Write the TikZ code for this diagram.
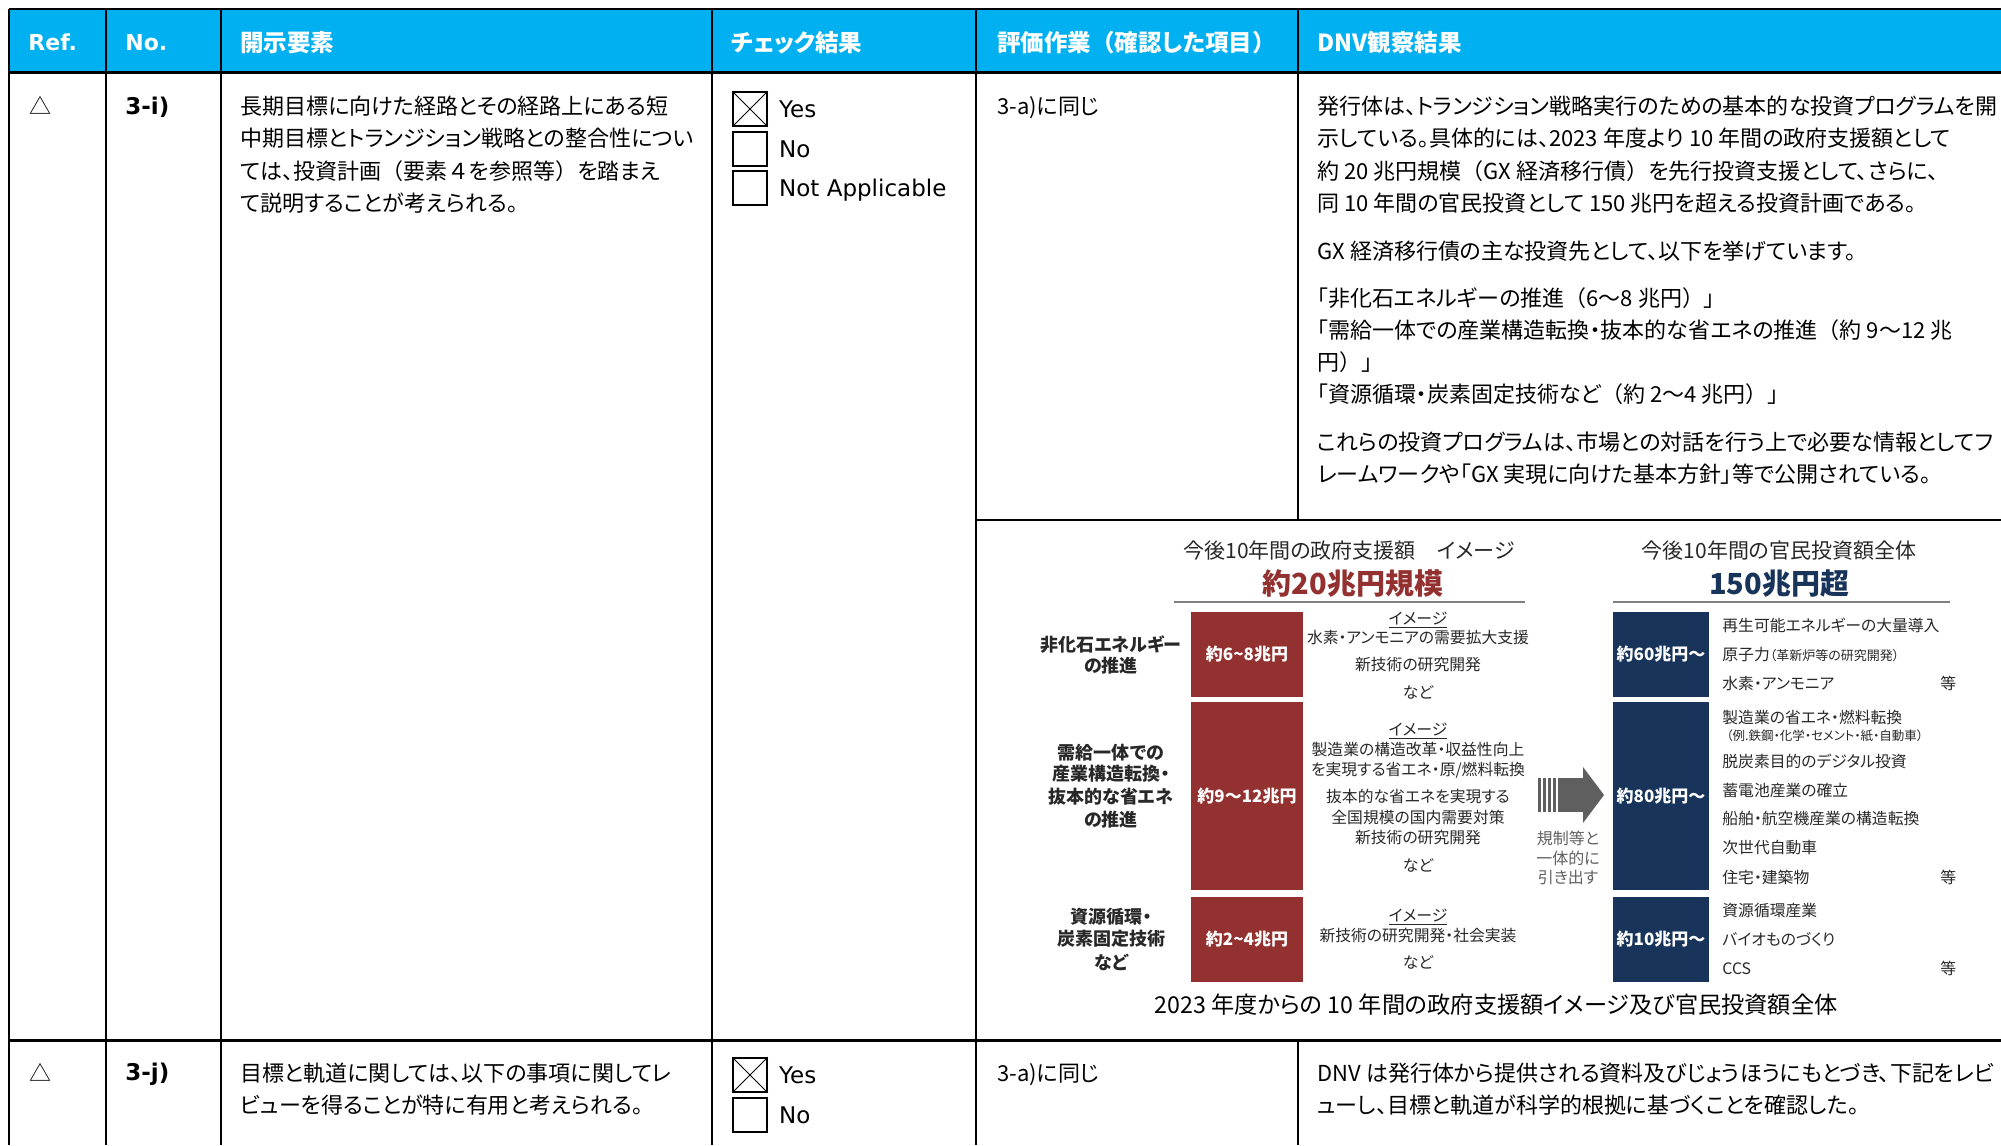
\documentclass[tikz,border=0pt]{standalone}
\usepackage{fontspec}
\setmainfont{DejaVu Sans}
\newfontfamily\jp[RawFeature=+palt]{Noto Sans CJK JP}
\newfontfamily\jpfull{Noto Sans CJK JP}
\newcommand{\jlp}{{\jpfull （}}
\newcommand{\jrp}{{\jpfull ）}}
\usetikzlibrary{positioning}
\definecolor{hdrblue}{RGB}{0,176,240}
\definecolor{govred}{RGB}{146,49,47}
\definecolor{pubnavy}{RGB}{25,52,90}
\definecolor{inkgray}{RGB}{40,40,40}
\definecolor{arrowgray}{RGB}{95,95,95}

\begin{document}
\begin{tikzpicture}[x=0.5pt,y=-0.5pt,
		every node/.style={inner sep=0pt},
		hdr/.style={font=\jp\bfseries\fontsize{11.75}{14}\selectfont,text=white,anchor=base west},
		hdrlat/.style={font=\bfseries\fontsize{11}{14}\selectfont,text=white,anchor=base west},
		body/.style={font=\jp\fontsize{11}{16}\selectfont,anchor=base west},
		lat/.style={font=\fontsize{11.5}{14}\selectfont,text depth=0pt},
		idx/.style={font=\bfseries\fontsize{11.5}{14}\selectfont,anchor=base west},
		chkbox/.style={draw,line width=0.8pt,minimum size=17pt},
		subttl/.style={font=\jp\fontsize{10.5}{12}\selectfont,text=inkgray,anchor=base},
		bigttl/.style={font=\jp\bfseries\fontsize{14.5}{16}\selectfont,anchor=base},
		sector/.style={font=\jp\bfseries\fontsize{9}{11}\selectfont,text=inkgray,anchor=base},
		bar/.style={font=\jp\bfseries\fontsize{8.5}{11}\selectfont,text=white},
		desc/.style={font=\jp\fontsize{7.9}{10}\selectfont,text=inkgray,anchor=base},
		item/.style={font=\jp\fontsize{7.9}{10}\selectfont,text=inkgray,anchor=base west},
		note/.style={font=\jp\fontsize{8}{10}\selectfont,text=arrowgray,anchor=base}]
	\useasboundingbox (0,0) rectangle (2001,1145);
	
	% table frame
	\fill[hdrblue] (9,9) rectangle (2001,73);
	\draw[line width=1pt] (9,9) -- (2001,9);
	\foreach \cx in {9,106,221,712,976}
		\draw[line width=1pt] (\cx,9) -- (\cx,1145);
	\draw[line width=1pt] (1298,9) -- (1298,520);
	\draw[line width=1pt] (1298,1040) -- (1298,1145);
	\draw[line width=1.5pt] (9,73) -- (2001,73);
	\draw[line width=1.2pt] (976,520) -- (2001,520);
	\draw[line width=1.5pt] (9,1040) -- (2001,1040);
	
	\node[hdrlat] (hRef) at (28,51) {Ref.};
	\node[hdrlat] (hNo) at (125,51) {No.};
	\node[hdr] (hElem) at (240,52) {開示要素};
	\node[hdr] (hChk) at (731,52) {チェック結果};
	\node[hdr] (hWork) at (997,52) {評価作業\jlp 確認した項目\jrp};
	\node[hdr] (hObs) at (1317,52) {DNV観察結果};
	
	% row 3-i)
	\node[body] (r1ref) at (29,115) {△};
	\node[idx] (r1no) at (125,114) {3-i)};
	\foreach \yy/\t [count=\i] in {115/長期目標に向けた経路とその経路上にある短,
			147/中期目標とトランジション戦略との整合性につい,
			179/ては、投資計画\jlp 要素{\jpfull ４}を参照等\jrp を踏まえ,
			211/て説明することが考えられる。}
		\node[body] (r1e\i) at (240,\yy) {\t};
	
	\node[chkbox] (r1yes) at (750,109) {};
	\node[chkbox] (r1no) at (750,149) {};
	\node[chkbox] (r1na) at (750,188) {};
	\draw[line width=0.5pt] (r1yes.north west) -- (r1yes.south east) (r1yes.north east) -- (r1yes.south west);
	\node[lat, right=5.5pt of r1yes] (r1yesT) {Yes};
	\node[lat, right=5.5pt of r1no] (r1noT) {No};
	\node[lat, right=5.5pt of r1na] (r1naT) {Not Applicable};
	
	\node[body] (r1w) at (997,115) {3-a)に同じ};
	\foreach \yy/\t [count=\i] in {115/発行体は、トランジション戦略実行のための基本的な投資プログラムを開,
			147/示している。具体的には、2023 年度より 10 年間の政府支援額として,
			179/約 20 兆円規模\jlp GX 経済移行債\jrp を先行投資支援として、さらに、,
			211/同 10 年間の官民投資として 150 兆円を超える投資計画である。,
			259/GX 経済移行債の主な投資先として、以下を挙げています。,
			306/「非化石エネルギーの推進\jlp 6～8 兆円\jrp 」,
			338/「需給一体での産業構造転換・抜本的な省エネの推進\jlp 約 9～12 兆,
			370/円\jrp 」,
			402/「資源循環・炭素固定技術など\jlp 約 2～4 兆円\jrp 」,
			450/これらの投資プログラムは、市場との対話を行う上で必要な情報としてフ,
			482/レームワークや「GX 実現に向けた基本方針」等で公開されている。}
		\node[body] (r1o\i) at (1317,\yy) {\t};
	
	% chart: government support
	\node[subttl] (govT) at (1349,558) {今後10年間の政府支援額　イメージ};
	\node[bigttl,text=govred] (govS) at (1353,594) {約20兆円規模};
	\draw[gray,line width=0.6pt] (1174,602) -- (1525,602);
	\node[bar,fill=govred,minimum width=56pt,minimum height=42.5pt] (g1) at (1247,654.5) {約6\textasciitilde8兆円};
	\node[bar,fill=govred,minimum width=56pt,minimum height=94pt] (g2) at (1247,796) {約9～12兆円};
	\node[bar,fill=govred,minimum width=56pt,minimum height=42.5pt] (g3) at (1247,939.5) {約2\textasciitilde4兆円};
	
	\foreach \yy/\t [count=\i] in {651/非化石エネルギー, 672/の推進,
			759/需給一体での, 780/産業構造転換・, 803/抜本的な省エネ, 826/の推進,
			923/資源循環・, 945/炭素固定技術, 969/など}
		\node[sector] (sec\i) at (1111,\yy) {\t};
	
	\foreach \yy/\t [count=\i] in {624/\underline{イメージ}, 643/水素・アンモニアの需要拡大支援, 670/新技術の研究開発, 698/など,
			735/\underline{イメージ}, 755/製造業の構造改革・収益性向上, 775/{を実現する省エネ・原/燃料転換},
			802/抜本的な省エネを実現する, 823/全国規模の国内需要対策, 843/新技術の研究開発, 871/など,
			921/\underline{イメージ}, 941/新技術の研究開発・社会実装, 968/など}
		\node[desc] (gd\i) at (1418,\yy) {\t};
	
	% arrow
	\foreach \bx in {1538,1543,1548,1553}
		\fill[arrowgray] (\bx,778) rectangle ++(3.2,34);
	\fill[arrowgray] (1558,778) rectangle (1584,812);
	\fill[arrowgray] (1583,767) -- (1604,795) -- (1583,823) -- cycle;
	\node[note] (ar1) at (1568,844) {規制等と};
	\node[note] (ar2) at (1568,864) {一体的に};
	\node[note] (ar3) at (1568,883) {引き出す};
	
	% chart: public and private investment
	\node[subttl] (pubT) at (1779,558) {今後10年間の官民投資額全体};
	\node[bigttl,text=pubnavy] (pubS) at (1779,594) {150兆円超};
	\draw[gray,line width=0.6pt] (1613,602) -- (1950,602);
	\node[bar,fill=pubnavy,minimum width=48pt,minimum height=42.5pt] (p1) at (1661,654.5) {約60兆円～};
	\node[bar,fill=pubnavy,minimum width=48pt,minimum height=94pt] (p2) at (1661,796) {約80兆円～};
	\node[bar,fill=pubnavy,minimum width=48pt,minimum height=42.5pt] (p3) at (1661,939.5) {約10兆円～};
	
	\foreach \yy/\t [count=\i] in {631/再生可能エネルギーの大量導入,
			660/原子力{\fontsize{6.5}{8}\selectfont（革新炉等の研究開発）},
			689/水素・アンモニア,
			723/製造業の省エネ・燃料転換,
			767/脱炭素目的のデジタル投資, 796/蓄電池産業の確立,
			824/船舶・航空機産業の構造転換, 853/次世代自動車, 883/住宅・建築物,
			916/資源循環産業, 945/バイオものづくり, 974/CCS}
		\node[item] (pi\i) at (1722,\yy) {\t};
	\node[item,font=\jp\fontsize{6.25}{8}\selectfont] (piEx) at (1726,740) {（例.鉄鋼・化学・セメント・紙・自動車）};
	\foreach \yy [count=\i] in {689,883,974}
		\node[item] (etc\i) at (1940,\yy) {等};
	
	\node[body,font=\jp\fontsize{11.6}{16}\selectfont,anchor=base] (cap) at (1496,1013) {2023 年度からの 10 年間の政府支援額イメージ及び官民投資額全体};
	
	% row 3-j)
	\node[body] (r2ref) at (29,1081) {△};
	\node[idx] (r2no) at (125,1080) {3-j)};
	\node[body] (r2e1) at (240,1081) {目標と軌道に関しては、以下の事項に関してレ};
	\node[body] (r2e2) at (240,1113) {ビューを得ることが特に有用と考えられる。};
	\node[chkbox] (r2yes) at (750,1075) {};
	\node[chkbox] (r2no) at (750,1115) {};
	\draw[line width=0.5pt] (r2yes.north west) -- (r2yes.south east) (r2yes.north east) -- (r2yes.south west);
	\node[lat, right=5.5pt of r2yes] (r2yesT) {Yes};
	\node[lat, right=5.5pt of r2no] (r2noT) {No};
	\node[body] (r2w) at (997,1081) {3-a)に同じ};
	\node[body] (r2o1) at (1317,1081) {DNV は発行体から提供される資料及びじょうほうにもとづき、下記をレビ};
	\node[body] (r2o2) at (1317,1113) {ューし、目標と軌道が科学的根拠に基づくことを確認した。};
\end{tikzpicture}
\end{document}
